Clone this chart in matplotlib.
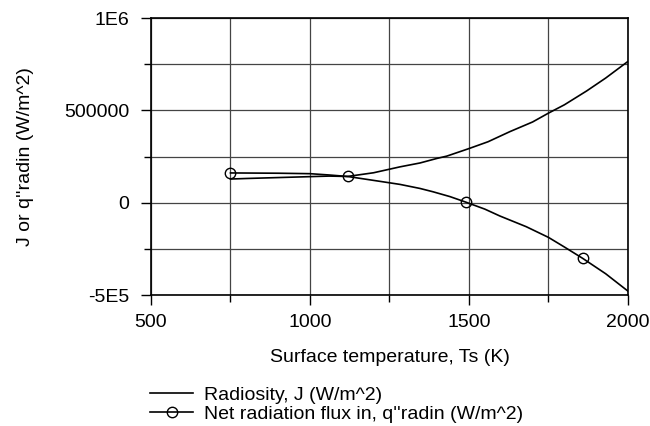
import matplotlib
matplotlib.use("Agg")
import matplotlib.pyplot as plt
from matplotlib.ticker import FixedLocator

plt.rcParams['font.family'] = ['Liberation Sans', 'DejaVu Sans']

# values
ts_j = [750, 800, 900, 1000, 1060, 1118, 1200, 1283, 1346, 1400, 1430, 1500,
        1560, 1629, 1700, 1750, 1800, 1870, 1930, 2000]
radiosity = [128000, 131000, 136000, 141000, 144000, 142000, 162000, 194000,
             215000, 240000, 252000, 293000, 330000, 385000, 437000, 485000,
             530000, 605000, 675000, 765000]

ts_q = [750, 800, 900, 1000, 1060, 1118, 1222, 1283, 1346, 1387, 1440, 1490,
        1550, 1597, 1680, 1750, 1800, 1858, 1930, 2000]
q_radin = [161000, 160500, 159500, 157000, 150000, 142000, 115000, 99000,
           77000, 59000, 33000, 3000, -35000, -72000, -130000, -188000,
           -240000, -302000, -385000, -479000]
q_marker_idx = [0, 5, 11, 17]

x_major = [500, 1000, 1500, 2000]
x_minor = [750, 1250, 1750]
y_major = [-500000, 0, 500000, 1000000]
y_major_labels = ["-5E5", "0", "500000", "1E6"]
y_minor = [-250000, 250000, 750000]

fs = 14

fig = plt.figure(figsize=(6.5, 4.26), dpi=100)
ax = fig.add_axes([0.2323, 0.3075, 0.7338, 0.6502])

ax.plot(ts_j, radiosity, color='black', lw=1.2, label='Radiosity, J (W/m^2)')
ax.plot(ts_q, q_radin, color='black', lw=1.2, marker='o', markersize=7.5,
        markerfacecolor='none', markeredgewidth=1.0, markevery=q_marker_idx,
        label="Net radiation flux in, q''radin (W/m^2)")

ax.set_xlim(500, 2000)
ax.set_ylim(-500000, 1000000)
ax.xaxis.set_major_locator(FixedLocator(x_major))
ax.xaxis.set_minor_locator(FixedLocator(x_minor))
ax.yaxis.set_major_locator(FixedLocator(y_major))
ax.yaxis.set_minor_locator(FixedLocator(y_minor))
ax.set_yticklabels(y_major_labels)

ax.grid(True, which='both', color='#444444', lw=0.9)
ax.set_axisbelow(True)
ax.tick_params(which='major', direction='out', length=7, width=1, labelsize=fs)
ax.tick_params(axis='x', which='major', pad=7)
ax.tick_params(axis='y', which='major', pad=8.5)
ax.tick_params(which='minor', direction='out', length=5, width=1)
for s in ax.spines.values():
    s.set_linewidth(1.2)
    s.set_color('black')

ax.set_xlabel('Surface temperature, Ts (K)', fontsize=fs, labelpad=12.5)
ax.set_ylabel("J or q''radin (W/m^2)", fontsize=fs, labelpad=22)

fig.legend(loc='upper left', bbox_to_anchor=(0.231, 0.094), frameon=False,
           fontsize=fs, handlelength=2.2, handletextpad=0.57, labelspacing=0.08,
           borderpad=0, borderaxespad=0)

fig.savefig('out.png', dpi=100)
